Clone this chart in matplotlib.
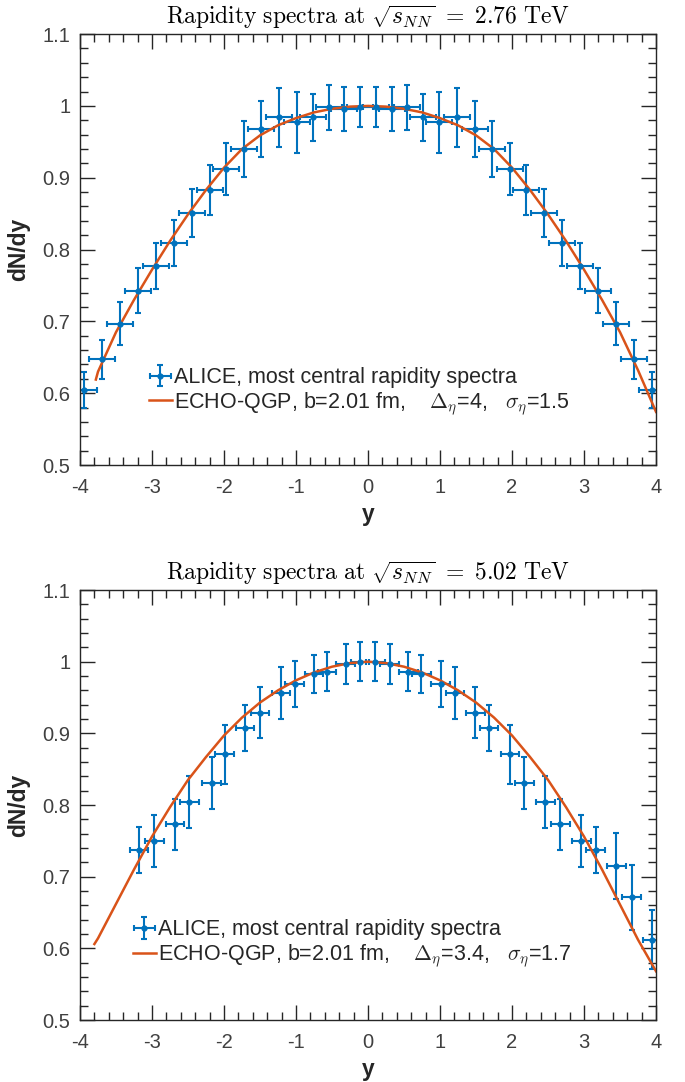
import matplotlib
matplotlib.use("Agg")
import matplotlib.pyplot as plt
from matplotlib.ticker import MultipleLocator

plt.rcParams['font.family'] = ['Liberation Sans', 'DejaVu Sans']
plt.rcParams['mathtext.fontset'] = 'cm'

blue = '#0072BD'
orange = '#D95319'
grey = '#262626'

# ---- 2.76 TeV ----
y1 = [-3.95, -3.70, -3.44, -3.20, -2.95, -2.70, -2.45, -2.20, -1.97, -1.72, -1.48, -1.23,
      -0.99, -0.77, -0.54, -0.33, -0.11,
      0.11, 0.33, 0.54, 0.77, 0.99, 1.23, 1.48, 1.72, 1.97, 2.20, 2.45, 2.70, 2.95, 3.20,
      3.44, 3.70, 3.95]
dn1 = [0.604, 0.647, 0.697, 0.743, 0.777, 0.809, 0.851, 0.883, 0.912, 0.940, 0.968, 0.984,
       0.977, 0.984, 0.998, 0.996, 0.999,
       0.999, 0.996, 0.998, 0.984, 0.977, 0.984, 0.968, 0.940, 0.912, 0.883, 0.851, 0.809,
       0.777, 0.743, 0.697, 0.647, 0.604]
err1 = [0.025, 0.027, 0.030, 0.031, 0.032, 0.032, 0.033, 0.035, 0.036, 0.039, 0.039, 0.041,
        0.043, 0.033, 0.031, 0.031, 0.028,
        0.028, 0.031, 0.031, 0.033, 0.043, 0.041, 0.039, 0.039, 0.036, 0.035, 0.033, 0.032,
        0.032, 0.031, 0.030, 0.027, 0.025]
xerr1 = 0.18
cy1 = [-3.78, -3.75, -3.5, -3.25, -3.0, -2.75, -2.5, -2.25, -2.0, -1.75, -1.5, -1.25, -1.0,
       -0.75, -0.5, -0.25, 0.0, 0.25, 0.5, 0.75, 1.0, 1.25, 1.5, 1.75, 2.0, 2.25, 2.5,
       2.75, 3.0, 3.25, 3.5, 3.75, 4.0]
cdn1 = [0.619, 0.630, 0.685, 0.730, 0.772, 0.812, 0.849, 0.883, 0.914, 0.940, 0.959, 0.973,
        0.983, 0.991, 0.996, 0.999, 1.000, 0.999, 0.996, 0.991, 0.983, 0.973, 0.959, 0.940,
        0.914, 0.883, 0.849, 0.812, 0.772, 0.730, 0.685, 0.632, 0.574]

# ---- 5.02 TeV ----
y2 = [-3.18, -2.97, -2.68, -2.48, -2.17, -1.99, -1.71, -1.50, -1.21, -1.02, -0.75, -0.57,
      -0.31, -0.11,
      0.10, 0.30, 0.56, 0.74, 1.01, 1.21, 1.49, 1.68, 1.97, 2.17, 2.46, 2.67, 2.96, 3.16,
      3.45, 3.66, 3.95]
dn2 = [0.737, 0.750, 0.773, 0.804, 0.831, 0.871, 0.907, 0.929, 0.956, 0.969, 0.983, 0.986,
       0.997, 1.000,
       1.000, 0.997, 0.986, 0.983, 0.969, 0.956, 0.929, 0.907, 0.871, 0.831, 0.804, 0.773,
       0.750, 0.737, 0.715, 0.671, 0.612]
err2 = [0.032, 0.036, 0.036, 0.036, 0.036, 0.041, 0.032, 0.036, 0.036, 0.032, 0.027, 0.027,
        0.028, 0.027,
        0.027, 0.028, 0.027, 0.027, 0.032, 0.036, 0.036, 0.032, 0.041, 0.036, 0.036, 0.036,
        0.036, 0.032, 0.046, 0.045, 0.041]
xerr2 = 0.13
cy2 = [-3.8, -3.75, -3.5, -3.25, -3.0, -2.75, -2.5, -2.25, -2.0, -1.75, -1.5, -1.25, -1.0,
       -0.75, -0.5, -0.25, 0.0, 0.25, 0.5, 0.75, 1.0, 1.25, 1.5, 1.75, 2.0, 2.25, 2.5,
       2.75, 3.0, 3.25, 3.5, 3.75, 4.0]
cdn2 = [0.606, 0.614, 0.662, 0.710, 0.756, 0.797, 0.835, 0.867, 0.897, 0.922, 0.943, 0.960,
        0.974, 0.985, 0.993, 0.998, 1.000, 0.998, 0.993, 0.985, 0.974, 0.960, 0.943, 0.922,
        0.897, 0.867, 0.835, 0.797, 0.756, 0.710, 0.661, 0.612, 0.568]

panels = [
    (y1, dn1, err1, xerr1, cy1, cdn1, '2.76', r'$\Delta_\eta$=4,   $\sigma_\eta$=1.5',
     (0.12, 0.227)),
    (y2, dn2, err2, xerr2, cy2, cdn2, '5.02', r'$\Delta_\eta$=3.4,   $\sigma_\eta$=1.7',
     (0.092, 0.234)),
]

fig = plt.figure(figsize=(6.85, 10.82), dpi=100)
rects = [[0.1168, 0.5702, 0.8409, 0.3983], [0.1168, 0.0573, 0.8409, 0.3974]]

for rect, (yy, dn, err, xe, cy, cdn, energy, params, anchor) in zip(rects, panels):
    ax = fig.add_axes(rect)
    h1 = ax.errorbar(yy, dn, yerr=err, xerr=xe, fmt='o', color=blue, ms=3.5, lw=1.5,
                     capsize=2.2, capthick=1.5)
    h2, = ax.plot(cy, cdn, color=orange, lw=1.8)
    ax.set_xlim(-4, 4)
    ax.set_ylim(0.5, 1.1)
    ax.xaxis.set_major_locator(MultipleLocator(1))
    ax.xaxis.set_minor_locator(MultipleLocator(0.2))
    ax.yaxis.set_major_locator(MultipleLocator(0.1))
    ax.yaxis.set_minor_locator(MultipleLocator(0.02))
    ax.set_xticks(range(-4, 5))
    ax.set_xticklabels([str(v) for v in range(-4, 5)])
    ax.set_yticks([0.5, 0.6, 0.7, 0.8, 0.9, 1.0, 1.1])
    ax.set_yticklabels(['0.5', '0.6', '0.7', '0.8', '0.9', '1', '1.1'])
    ax.tick_params(which='both', direction='in', top=True, right=True,
                   color=grey, labelcolor='#404040', labelsize=14.5, width=1)
    ax.tick_params(which='major', length=11)
    ax.tick_params(axis='y', which='major', pad=7)
    ax.tick_params(axis='x', which='major', pad=9)
    ax.tick_params(which='minor', length=6)
    for s in ax.spines.values():
        s.set_color(grey)
        s.set_linewidth(1)
    ax.set_xlabel('y', fontsize=16.5, fontweight='bold', color=grey, labelpad=5)
    ax.set_ylabel('dN/dy', fontsize=16.5, fontweight='bold', color=grey, labelpad=9)
    ax.set_title(r'$\mathrm{Rapidity\ spectra\ at}\ \sqrt{s_{NN}}\ =\ ' + energy +
                 r'\ \mathrm{TeV}$', fontsize=17, pad=7)
    ax.legend([h1, h2], ['ALICE, most central rapidity spectra',
                         'ECHO-QGP, b=2.01 fm,    ' + params],
              loc='upper left', bbox_to_anchor=anchor, frameon=False,
              fontsize=15.5, handlelength=1.05, handletextpad=0.1, labelspacing=0.1,
              borderpad=0, borderaxespad=0, labelcolor=grey)

fig.savefig('out.png', dpi=100)
